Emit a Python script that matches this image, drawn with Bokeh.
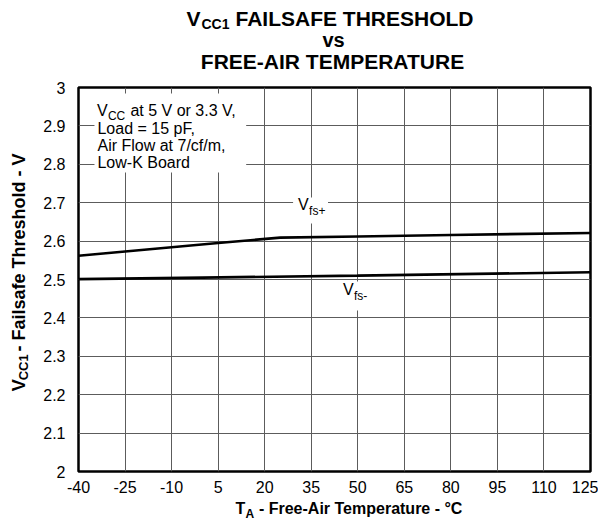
import math
from bokeh.plotting import figure
from bokeh.layouts import column, row
from bokeh.models import Label, FixedTicker, Range1d, BoxAnnotation
from bokeh.embed import file_html
from bokeh.resources import INLINE

# ---- data ----
temp_plus = [-40, -25, -10, 5, 25, 50, 80, 125]
vfs_plus = [2.562, 2.573, 2.584, 2.595, 2.609, 2.612, 2.616, 2.621]
temp_minus = [-40, 0, 50, 125]
vfs_minus = [2.501, 2.505, 2.510, 2.519]

x_ticks = [-40, -25, -10, 5, 20, 35, 50, 65, 80, 95, 110, 125]
x_tick_labels = ["-40", "-25", "-10", "5", "20", "35", "50", "65", "80", "95", "110", "125"]
y_ticks = [2, 2.1, 2.2, 2.3, 2.4, 2.5, 2.6, 2.7, 2.8, 2.9, 3]
y_tick_labels = ["2", "2.1", "2.2", "2.3", "2.4", "2.5", "2.6", "2.7", "2.8", "2.9", "3"]

FONT = "Liberation Sans"
NB = "\u00a0"

# overall page geometry (page pixels)
TOTAL_W = 598
TITLE_H = 80
YLAB_W = 40
MAIN_H = 421
XLAB_H = 28
# frame in page pixels
FL, FR, FT, FB = 77, 590, 87, 471
X0, X1, Y0, Y1 = -40, 125, 2, 3
MID = 0.35  # baseline -> text middle, in em


def xd(px):
    return X0 + (px - FL) * (X1 - X0) / (FR - FL)


def yd(py):
    return Y0 + (FB - py) * (Y1 - Y0) / (FB - FT)


def blank(w, h):
    f = figure(width=w, height=h, output_backend="svg", toolbar_location=None,
               x_range=Range1d(0, w), y_range=Range1d(h, 0),
               x_axis_location=None, y_axis_location=None, min_border=0)
    f.min_border_left = f.min_border_right = f.min_border_top = f.min_border_bottom = 0
    f.grid.visible = False
    f.outline_line_color = None
    f.background_fill_color = "white"
    f.border_fill_color = "white"
    return f


def lab(fig, x, y, text, size, bold=False, align="left", angle=0.0):
    fig.add_layout(Label(x=x, y=y, text=text, text_font=FONT,
                         text_font_size=f"{size}px",
                         text_font_style="bold" if bold else "normal",
                         text_align=align, text_baseline="middle",
                         text_color="black", angle=angle))


# ---- main plot ----
MAIN_W = TOTAL_W - YLAB_W
p = figure(width=MAIN_W, height=MAIN_H, output_backend="svg", toolbar_location=None,
           x_range=Range1d(X0, X1), y_range=Range1d(Y0, Y1))
p.min_border_left = FL - YLAB_W
p.min_border_right = MAIN_W - (FR - YLAB_W)
p.min_border_top = FT - TITLE_H
p.min_border_bottom = MAIN_H - (FB - TITLE_H)
p.background_fill_color = "white"
p.border_fill_color = "white"
p.outline_line_color = "black"
p.outline_line_width = 2.5

p.xaxis.ticker = FixedTicker(ticks=x_ticks)
p.xaxis.major_label_overrides = dict(zip(x_ticks, x_tick_labels))
p.yaxis.ticker = FixedTicker(ticks=y_ticks)
p.yaxis.major_label_overrides = dict(zip(y_ticks, y_tick_labels))
for ax in (p.xaxis, p.yaxis):
    ax.axis_line_color = None
    ax.major_tick_line_color = None
    ax.minor_tick_line_color = None
    ax.major_label_text_font = FONT
    ax.major_label_text_font_size = "16px"
    ax.major_label_text_color = "black"
p.xaxis.major_label_standoff = 3
p.yaxis.major_label_standoff = 7
for g in (p.xgrid, p.ygrid):
    g.grid_line_color = "#5c5c5c"
    g.grid_line_width = 1
    g.grid_line_alpha = 1

p.line(temp_plus, vfs_plus, line_color="black", line_width=2.6)
p.line(temp_minus, vfs_minus, line_color="black", line_width=2.6)

# white boxes behind in-plot annotations
for (l, r, t, b) in [(93, 245, 93, 172), (292, 327, 197, 223), (337, 372, 281, 310)]:
    p.add_layout(BoxAnnotation(left=xd(l), right=xd(r), top=yd(t), bottom=yd(b),
                               fill_color="white", fill_alpha=1, line_color=None,
                               level="underlay"))


def plab(px, base, text, size, bold=False):
    lab(p, xd(px), yd(base - MID * size), text, size, bold)


# condition note (x, baseline in page pixels)
plab(95.5, 116, "V", 16)
plab(106.5, 120, "CC", 12)
plab(129, 116, "at 5 V or 3.3 V,", 16)
plab(96, 134, "Load = 15 pF,", 16)
plab(96, 151, "Air Flow at 7/cf/m,", 16)
plab(96, 168, "Low-K Board", 16)

# series labels
plab(297, 210, "V", 16)
plab(308, 215, "fs+", 12)
plab(342, 295, "V", 16)
plab(353, 300, "fs-", 12)

# ---- title ----
t = blank(TOTAL_W, TITLE_H)


def tlab(px, base, text, size, align="left"):
    lab(t, px, base - MID * size, text, size, True, align)


tlab(186, 25, "V", 21)
tlab(201, 28, "CC1", 14)
tlab(235, 25, "FAILSAFE THRESHOLD", 21)
tlab(333, 46, "vs", 20, "center")
tlab(332, 68, "FREE-AIR TEMPERATURE", 21, "center")

# ---- y axis label (rotated, reads bottom to top) ----
yl = blank(YLAB_W, MAIN_H)
a = math.pi / 2


def ylab(base_x, py, text, size):
    lab(yl, base_x - MID * size, py - TITLE_H, text, size, True, angle=a)


ylab(25, 413, "V", 18)
ylab(28, 401, "CC1", 13)
ylab(25, 375, NB + "-" + NB + "Failsafe Threshold - V", 18)

# ---- x axis label ----
XL_TOP = TITLE_H + MAIN_H
xl = blank(TOTAL_W, XLAB_H)


def xlab(px, base, text, size):
    lab(xl, px, base - MID * size - XL_TOP, text, size, True)


xlab(235, 514, "T", 16)
xlab(245, 518, "A", 12)
xlab(254, 514, NB + "-" + NB + "Free-Air Temperature - \u00b0C", 16)

layout = column(t, row(yl, p, spacing=0), xl, spacing=0)
open("out.html", "w").write(file_html(layout, INLINE))
